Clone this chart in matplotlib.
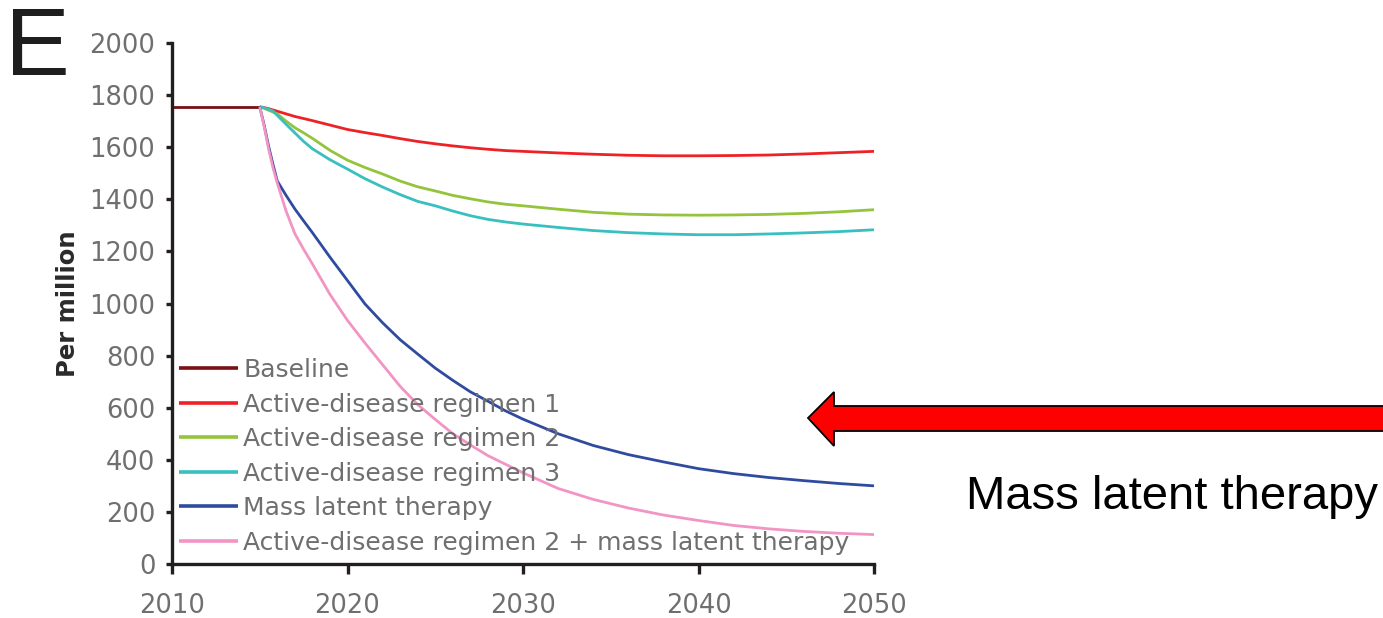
import matplotlib
matplotlib.use("Agg")
import matplotlib.pyplot as plt
from matplotlib.patches import Polygon

plt.rcParams['font.family'] = ['DejaVu Sans']

# Baseline incidence before interventions start
baseline_years = [2010, 2015]
baseline_vals = [1755, 1755]

# Projection years after interventions begin in 2015
years = [2015, 2015.25, 2015.5, 2015.75, 2016, 2016.5, 2017, 2017.5, 2018,
         2019, 2020, 2021, 2022, 2023, 2024, 2025, 2026, 2027, 2028, 2029,
         2030, 2032, 2034, 2036, 2038, 2040, 2042, 2044, 2046, 2048, 2050]

regimen1 = [1755, 1752, 1748, 1743, 1738, 1728, 1718, 1710, 1702,
            1685, 1668, 1656, 1645, 1633, 1622, 1613, 1605, 1598, 1592, 1587,
            1584, 1578, 1573, 1569, 1567, 1567, 1568, 1570, 1574, 1579, 1584]
regimen2 = [1755, 1749, 1742, 1735, 1728, 1700, 1675, 1655, 1634,
            1588, 1550, 1522, 1497, 1470, 1448, 1432, 1415, 1402, 1390, 1381,
            1375, 1362, 1350, 1343, 1340, 1339, 1340, 1342, 1346, 1352, 1360]
regimen3 = [1755, 1751, 1746, 1739, 1722, 1688, 1655, 1622, 1594,
            1552, 1516, 1479, 1447, 1418, 1392, 1375, 1355, 1337, 1323, 1313,
            1305, 1292, 1280, 1272, 1267, 1264, 1264, 1267, 1271, 1276, 1283]
mass_latent = [1755, 1685, 1605, 1535, 1470, 1415, 1363, 1317, 1272,
               1178, 1088, 998, 926, 861, 806, 752, 705, 661, 625, 588,
               556, 500, 455, 420, 392, 366, 347, 332, 320, 309, 300]
regimen2_mass = [1755, 1680, 1595, 1522, 1462, 1355, 1268, 1208, 1152,
                 1035, 935, 848, 765, 682, 612, 555, 500, 457, 416, 383,
                 350, 290, 248, 215, 188, 167, 148, 135, 125, 118, 113]

labels = ["Baseline",
          "Active-disease regimen 1",
          "Active-disease regimen 2",
          "Active-disease regimen 3",
          "Mass latent therapy",
          "Active-disease regimen 2 + mass latent therapy"]
colors = ["#7a1014", "#ee2226", "#93c43b", "#38bfbf", "#2f4ba0", "#f294c4"]

x_ticks = [2010, 2020, 2030, 2040, 2050]
y_ticks = list(range(0, 2001, 200))

W, H = 1383, 618
fig = plt.figure(figsize=(W / 100, H / 100), dpi=100)
ax = fig.add_axes([172 / W, 1 - 564 / H, (874 - 172) / W, (564 - 43) / H])

series = [regimen1, regimen2, regimen3, mass_latent, regimen2_mass]
handles = []
h, = ax.plot(baseline_years, baseline_vals, color=colors[0], lw=2.0,
             solid_capstyle='butt')
handles.append(h)
for vals, c in zip(series, colors[1:]):
    h, = ax.plot(years, vals, color=c, lw=2.0, solid_capstyle='butt',
                 solid_joinstyle='round')
    handles.append(h)

ax.set_xlim(2010, 2050)
ax.set_ylim(0, 2000)
ax.set_xticks(x_ticks)
ax.set_yticks(y_ticks)

for s in ['top', 'right']:
    ax.spines[s].set_visible(False)
for s in ['left', 'bottom']:
    ax.spines[s].set_linewidth(2.4)
    ax.spines[s].set_color('#231f20')

ax.tick_params(axis='y', direction='out', length=4, width=2.4,
               color='#231f20', labelsize=18.5, labelcolor='#6f6f6f', pad=8)
ax.tick_params(axis='x', direction='out', length=7, width=2.4,
               color='#231f20', labelsize=18.5, labelcolor='#6f6f6f', pad=14)

ax.set_ylabel("Per million", fontsize=17.5, fontweight='bold', color='#2a2a2a')
ax.yaxis.set_label_coords(-0.131, 0.5)

leg = ax.legend(handles, labels, loc='lower left',
                bbox_to_anchor=(0.01, 0.018), frameon=False,
                fontsize=18, handlelength=2.35, handletextpad=0.22,
                labelspacing=0.42, borderpad=0, borderaxespad=0)
for t in leg.get_texts():
    t.set_color('#6f6f6f')
for lh in leg.get_lines():
    lh.set_linewidth(2.6)

# Panel letter
fig.text(5 / W, 1 - 75 / H, "E", fontsize=70, color='#1e1e1e',
         family='Liberation Sans', ha='left', va='baseline')

# Red callout arrow pointing at the mass latent therapy curve
arrow_px = [(808, 418), (834, 392), (834, 406), (1395, 406),
            (1395, 431), (834, 431), (834, 446)]
arrow = Polygon([(x / W, 1 - y / H) for x, y in arrow_px], closed=True,
                transform=fig.transFigure, facecolor='#ff0000',
                edgecolor='black', linewidth=1.3, clip_on=False)
fig.patches.append(arrow)

fig.text(1378 / W, 1 - 497 / H, "Mass latent therapy", fontsize=34,
         color='black', family='Liberation Sans', ha='right', va='center')

fig.savefig("out.png", dpi=100)
